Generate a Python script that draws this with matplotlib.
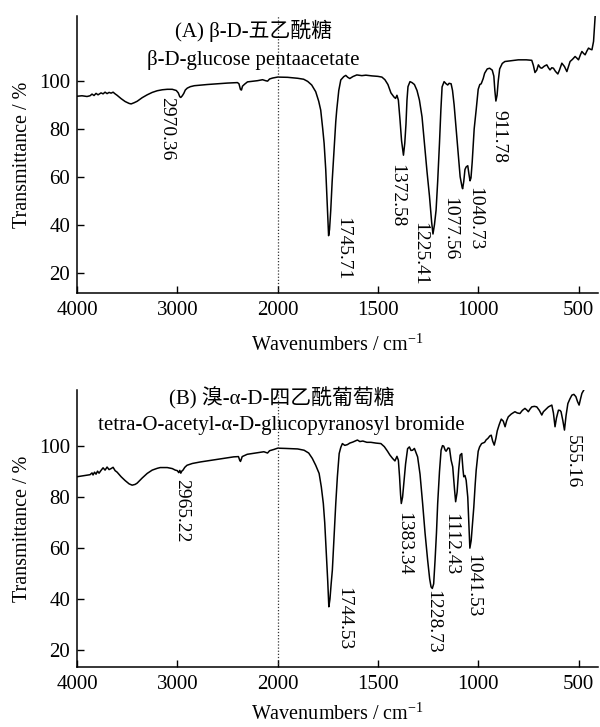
import numpy as np
import matplotlib
matplotlib.use("Agg")
import matplotlib.pyplot as plt

plt.rcParams['font.family'] = ['Liberation Serif', 'Noto Sans CJK SC']
plt.rcParams['mathtext.fontset'] = 'stix'

# ---------------- data: panel A ----------------
wn_a = [4000, 3950, 3900, 3870, 3850, 3830, 3810, 3790, 3760, 3740, 3720, 3700, 3680, 3660,
        3640, 3620, 3600, 3560, 3520, 3480, 3460, 3430, 3400, 3350, 3300, 3250, 3200, 3150,
        3100, 3050, 3010, 2990, 2975, 2965, 2950, 2935, 2920, 2900, 2870, 2830, 2700, 2600,
        2500, 2400, 2385, 2370, 2360, 2350, 2330, 2300, 2200, 2150, 2120, 2100, 2080, 2050,
        2000, 1950, 1900, 1870, 1850, 1830, 1810, 1795, 1785, 1775, 1768, 1760, 1755, 1749,
        1745.71, 1741, 1735, 1728, 1718, 1710, 1705, 1695, 1685, 1670, 1660, 1650, 1640, 1625,
        1605, 1580, 1560, 1530, 1500, 1480, 1465, 1450, 1435, 1420, 1412, 1405, 1398, 1390,
        1382, 1372.58, 1366, 1360, 1355, 1350, 1340, 1330, 1318, 1305, 1293, 1280, 1268, 1255,
        1243, 1232, 1225.41, 1218, 1210, 1202, 1193, 1186, 1180, 1170, 1160, 1152, 1145, 1135,
        1128, 1120, 1110, 1100, 1090, 1080, 1077.56, 1072, 1066, 1060, 1052, 1046, 1040.73,
        1036, 1030, 1020, 1010, 1000, 992, 985, 975, 968, 955, 943, 930, 922, 917, 911.78, 906,
        900, 893, 880, 867, 830, 800, 760, 733, 725, 717, 708, 700, 690, 683, 670, 658, 650,
        642, 633, 625, 615, 603, 595, 583, 570, 558, 550, 542, 530, 517, 508, 500, 490, 483,
        475, 467, 458, 450, 440, 433, 425, 417, 410]
t_a = [93.6, 93.8, 93.5, 93.8, 94.5, 93.9, 94.8, 94.2, 95.0, 94.6, 95.3, 94.7, 95.2, 94.9,
       95.3, 94.6, 94.0, 92.6, 91.4, 90.6, 90.4, 90.9, 91.5, 93.0, 94.2, 95.2, 95.9, 96.3,
       96.5, 96.5, 96.0, 95.0, 93.4, 93.1, 93.8, 94.8, 96.2, 97.0, 97.6, 98.0, 98.5, 98.8,
       99.1, 99.3, 98.8, 96.4, 96.2, 97.8, 98.6, 99.6, 100.1, 100.5, 100.1, 99.9, 100.8, 101.2,
       101.6, 101.5, 101.1, 100.7, 99.8, 98.3, 95.5, 91.5, 87.8, 80.0, 73.9, 63.0, 53.0, 42.0,
       35.4, 38.0, 46.0, 58.0, 72.0, 83.0, 88.0, 96.0, 100.4, 101.8, 102.3, 101.5, 101.0, 101.8,
       102.5, 102.2, 102.4, 102.1, 101.9, 101.6, 100.5, 98.5, 95.0, 93.3, 92.7, 94.0, 92.0, 84.0,
       75.0, 69.0, 74.0, 82.0, 92.0, 97.6, 99.7, 99.3, 98.5, 96.0, 92.0, 85.0, 74.0, 62.0,
       52.0, 41.0, 36.1, 40.0, 46.0, 58.0, 74.0, 88.0, 97.5, 99.7, 98.8, 98.3, 99.0, 98.8,
       96.0, 90.0, 80.0, 70.0, 60.0, 55.5, 55.0, 58.0, 63.0, 64.1, 64.6, 61.0, 58.3,
       59.5, 66.0, 80.0, 88.0, 96.5, 98.5, 98.8, 101.0, 103.2, 105.0, 105.3, 104.5, 102.0, 96.0, 91.6, 94.0,
       100.0, 105.0, 107.3, 108.1, 108.5, 108.8, 108.8, 108.6, 106.5, 103.5, 104.5, 106.7, 105.5, 105.3, 106.2, 106.7, 105.5,
       104.6, 105.5, 105.3, 104.0, 102.9, 104.5, 107.4, 106.0, 103.9, 106.0, 108.1, 109.0, 110.2, 109.5, 108.8, 111.0, 112.3,
       111.5, 110.9, 112.5, 113.7, 113.2, 113.0, 116.5, 127.0, 135.0]

# ---------------- data: panel B ----------------
wn_b = [4000, 3950, 3900, 3870, 3850, 3840, 3825, 3810, 3795, 3780, 3760, 3740, 3720, 3700,
        3680, 3660, 3640, 3620, 3600, 3560, 3520, 3480, 3450, 3420, 3400, 3350, 3300, 3250,
        3200, 3170, 3100, 3050, 3020, 3000, 2985, 2975, 2965, 2955, 2943, 2925, 2903, 2850,
        2770, 2600, 2437, 2390, 2378, 2370, 2362, 2353, 2330, 2303, 2200, 2137, 2115, 2100,
        2080, 2037, 2000, 1960, 1900, 1868, 1845, 1827, 1810, 1793, 1782, 1772, 1765, 1757,
        1750, 1744.53, 1739, 1733, 1727, 1720, 1710, 1702, 1693, 1685, 1677, 1665, 1652, 1640,
        1625, 1602, 1590, 1575, 1555, 1535, 1510, 1485, 1468, 1452, 1440, 1427, 1415, 1405,
        1398, 1392, 1387, 1383.34, 1377, 1370, 1362, 1352, 1343, 1335, 1327, 1318, 1310, 1302,
        1290, 1277, 1265, 1252, 1242, 1235, 1228.73, 1222, 1215, 1208, 1202, 1193, 1185, 1178,
        1172, 1165, 1160, 1150, 1143, 1135, 1127, 1118, 1112.43, 1105, 1097, 1090, 1082, 1076,
        1072, 1066, 1060, 1052, 1046, 1041.53, 1035, 1028, 1022, 1015, 1010, 1000, 993, 983,
        968, 960, 952, 942, 935, 928, 920, 912, 905, 895, 885, 875, 866, 858, 850, 835, 817,
        805, 792, 780, 767, 758, 750, 742, 733, 720, 708, 695, 683, 675, 667, 650, 633, 625,
        617, 610, 600, 592, 587, 578, 570, 562, 553, 543, 533, 523, 513, 505, 497, 490, 483,
        475, 467]
t_b = [88.0, 88.3, 88.6, 88.8, 89.5, 88.7, 89.8, 89.0, 90.2, 89.4, 90.5, 91.5, 90.6, 91.8,
       90.8, 91.2, 91.7, 90.4, 89.8, 88.0, 86.5, 85.2, 84.7, 85.0, 85.5, 87.5, 89.3, 90.6,
       91.3, 91.6, 91.6, 91.2, 90.6, 90.4, 89.6, 90.5, 89.4, 90.2, 90.6, 91.7, 92.5, 93.2,
       93.8, 94.8, 95.8, 95.9, 94.5, 94.0, 94.8, 95.9, 96.3, 96.8, 97.4, 97.8, 97.5, 97.3,
       98.2, 98.7, 99.2, 99.1, 98.9, 98.4, 97.3, 95.2, 92.5, 89.3, 84.0, 77.5, 70.0, 58.0,
       47.0, 37.0, 40.0, 46.0, 51.4, 62.0, 77.5, 88.0, 97.1, 99.5, 101.0, 100.3, 100.6, 101.2,
       101.6, 102.4, 101.8, 102.0, 101.5, 101.5, 101.2, 101.0, 99.8, 98.0, 96.5, 95.2, 94.2, 96.0,
       94.5, 88.0, 81.0, 77.5, 80.0, 86.0, 93.0, 99.0, 99.7, 98.3, 98.4, 99.1, 97.5, 95.8,
       89.0, 77.5, 66.0, 55.3, 48.0, 44.8, 44.2, 46.0, 55.3, 66.0, 77.5, 90.0, 98.4, 100.2,
       100.0, 98.5, 98.0, 99.3, 99.1, 94.5, 91.9, 83.0, 78.2, 82.0, 91.0, 96.5, 97.1, 91.0,
       88.0, 88.5, 86.6, 80.0, 68.0, 60.0, 63.0, 70.0, 76.0, 85.0, 90.6, 98.0, 99.7, 101.0,
       101.5, 102.5, 103.0, 104.0, 104.3, 102.0, 100.4, 103.0, 106.0, 108.5, 110.6, 109.8, 107.6, 110.0, 111.5, 112.6, 113.5,
       113.0, 112.8, 114.0, 114.8, 114.2, 113.5, 114.5, 115.4, 115.6, 115.4, 114.0, 112.2, 113.5, 114.1, 115.4, 116.1, 113.0,
       107.6, 111.0, 114.1, 114.0, 113.5, 110.0, 106.3, 112.0, 116.7, 118.5, 120.0, 120.3, 119.4, 117.5, 116.1, 118.5, 120.7,
       121.8, 123.0]

# ---------------- peak labels ----------------
peaks_a = ["2970.36", "1745.71", "1372.58", "1225.41", "1077.56", "1040.73", "911.78"]
peak_a_x = [3103, 1675, 1406, 1290, 1140, 1015, 895]
peak_a_y = [93.4, 43.0, 65.5, 41.0, 51.5, 55.7, 87.8]

peaks_b = ["2965.22", "1744.53", "1383.34", "1228.73", "1112.43", "1041.53", "555.16"]
peak_b_x = [2953, 1668, 1372, 1227, 1135, 1027, 533]
peak_b_y = [87.3, 44.8, 74.3, 43.5, 73.6, 57.9, 104.3]

title_a = ["(A) β-D-五乙酰糖", "β-D-glucose pentaacetate"]
title_b = ["(B) 溴-α-D-四乙酰葡萄糖", "tetra-O-acetyl-α-D-glucopyranosyl bromide"]

xticks = [4000, 3000, 2000, 1500, 1000, 500]
yticks = [20, 40, 60, 80, 100]


def fwd(w):
    w = np.asarray(w, dtype=float)
    return np.where(w > 2000, 2000 + (w - 2000) / 2.0, w)


def inv(u):
    u = np.asarray(u, dtype=float)
    return np.where(u > 2000, 2000 + (u - 2000) * 2.0, u)


fig = plt.figure(figsize=(6.0, 7.27), dpi=100)
ax1 = fig.add_axes([0.1283, 0.5974, 0.8683, 0.3806])
ax2 = fig.add_axes([0.1283, 0.0829, 0.8683, 0.3806])

FS_TICK = 15
FS_PEAK = 14
FS_LAB = 14.5
FS_TITLE = 15
fam = ['Liberation Serif', 'Noto Sans CJK SC']


def style(ax, wn, t, ylim, peaks, px, py, title, tx, ty, xlpad):
    ax.set_xscale('function', functions=(fwd, inv))
    ax.plot(wn, t, color='black', lw=1.1)
    ax.set_xlim(4000, 403)
    ax.set_ylim(*ylim)
    ax.axvline(2000, color='#333333', lw=0.9, ls=(0, (1, 1.5)))
    ax.set_xticks(xticks)
    ax.set_xticklabels([str(v) for v in xticks])
    ax.set_yticks(yticks)
    ax.set_yticklabels([str(v) for v in yticks])
    ax.spines['top'].set_visible(False)
    ax.spines['right'].set_visible(False)
    for s in ('left', 'bottom'):
        ax.spines[s].set_linewidth(1.1)
    ax.tick_params(direction='in', length=5, width=1.0, labelsize=FS_TICK, pad=5)
    ax.tick_params(axis='x', pad=6)
    ax.set_ylabel('Transmittance / %', fontsize=FS_LAB, labelpad=5)
    ax.set_xlabel('Wavenumbers / cm$^{\\mathregular{-1}}$', fontsize=FS_LAB, labelpad=xlpad)
    for lab, x, y in zip(peaks, px, py):
        ax.text(x, y, lab, rotation=-90, ha='center', va='top', fontsize=FS_PEAK)
    ax.text(tx, ty[0], title[0], transform=ax.transAxes,
            ha='center', va='baseline', fontsize=FS_TITLE, family=fam)
    ax.text(tx, ty[1], title[1], transform=ax.transAxes,
            ha='center', va='baseline', fontsize=FS_TITLE, family=fam)


style(ax1, wn_a, t_a, (11.6, 127.1), peaks_a, peak_a_x, peak_a_y, title_a, 0.338, (0.925, 0.823), 10)
style(ax2, wn_b, t_b, (13.5, 122.0), peaks_b, peak_b_x, peak_b_y, title_b, 0.393, (0.946, 0.856), 7)

fig.savefig('out.png', dpi=100)
